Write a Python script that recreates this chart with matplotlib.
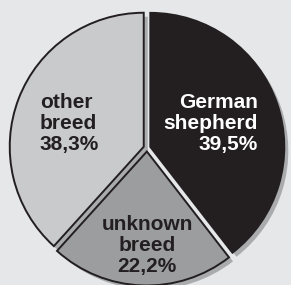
import matplotlib
matplotlib.use("Agg")
import matplotlib.pyplot as plt

# data
breeds = ["German\nshepherd", "unknown\nbreed", "other\nbreed"]
shares = [39.5, 22.2, 38.3]
share_labels = ["39,5%", "22,2%", "38,3%"]

BG = "#e6e7e8"
INK = "#231f20"
slice_colors = [INK, "#9c9d9f", "#c9cacc"]
text_colors = ["white", INK, INK]

W, H = 291, 285
CX, CY, R = 147, H - 148, 134


def init_axis():
	fig = plt.figure(figsize=(W / 100, H / 100), dpi=100)
	fig.patch.set_facecolor(BG)
	ax = fig.add_axes([0, 0, 1, 1])
	ax.set_facecolor(BG)
	return fig, ax


fig, ax = init_axis()
# pie shifts slices by explode in data units (pixels here)
explode = [3.5, 3.5, 3.5]

# drop shadow
ax.pie(shares, radius=R, center=(CX + 4, CY - 4), startangle=90,
	counterclock=False, explode=explode, colors=["#a9abad"] * 3,
	wedgeprops=dict(linewidth=0), frame=True)

ax.pie(shares, radius=R, center=(CX, CY), startangle=90,
	counterclock=False, explode=explode, colors=slice_colors,
	wedgeprops=dict(edgecolor=INK, linewidth=1.4, joinstyle="miter"), frame=True)

ax.set_xlim(0, W)
ax.set_ylim(0, H)
ax.set_aspect("equal")
ax.axis("off")

# label blocks: (x, baseline of first line, alignment) in pixels from top-left
spots = [(258, 108, "right"), (147, 230, "center"), (40, 108, "left")]
for (x, y, ha), name, pct, col in zip(spots, breeds, share_labels, text_colors):
	lines = name.split("\n") + [pct]
	for k, line in enumerate(lines):
		ax.text(x, H - (y + 21 * k), line, ha=ha, va="baseline", color=col,
			fontsize=15, fontweight="bold", family="Liberation Sans")

fig.savefig("out.png", dpi=100, facecolor=BG)
